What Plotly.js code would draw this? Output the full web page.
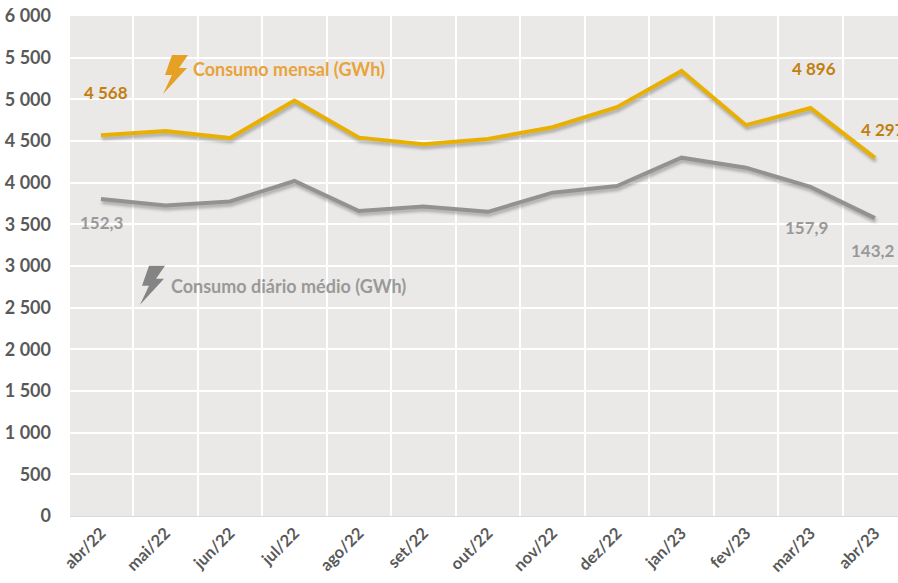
<!DOCTYPE html>
<html><head><meta charset="utf-8">
<script src="https://cdn.plot.ly/plotly-3.0.1.min.js"></script>
<style>
html,body{margin:0;padding:0;background:#fff;overflow:hidden}
#c{width:898px;height:583px}
.scatterlayer .js-line{filter:drop-shadow(1px 3px 1.5px rgba(70,70,70,.38))}
</style></head><body><div id="c"></div>
<script>
var months=["abr/22","mai/22","jun/22","jul/22","ago/22","set/22","out/22","nov/22","dez/22","jan/23","fev/23","mar/23","abr/23"];
var consumoMensal=[4568,4620,4535,4985,4540,4460,4525,4665,4905,5340,4690,4896,4297];
var consumoDiario=[3805,3725,3775,4020,3660,3715,3650,3880,3960,4300,4180,3950,3575];
var W=898,H=583,L=70,T=16,B=516.5;
function px(x){return (x-L)/(W-L)}
function py(y){return (B-y)/(B-T)}
var font="Lato, 'Open Sans', sans-serif";
function note(text,x,y,color,size){
  return {text:text,xref:'paper',yref:'paper',x:px(x),y:py(y),xanchor:'left',yanchor:'middle',showarrow:false,
          font:{family:font,size:size||17,color:color,weight:700},borderpad:0};
}
function bolt(ox,oy,color){
  var pts=[[9,0],[25,0],[16,13],[24,13],[0,39],[9,20],[2,20]];
  var d=pts.map(function(p,i){return (i?'L':'M')+px(ox+p[0])+','+py(oy+p[1]);}).join(' ')+' Z';
  return {type:'path',xref:'paper',yref:'paper',path:d,fillcolor:color,line:{width:0},layer:'above'};
}
Plotly.newPlot('c',[
 {x:months,y:consumoMensal,mode:'lines',name:'Consumo mensal (GWh)',line:{color:'#E9B004',width:4,shape:'linear'},cliponaxis:false},
 {x:months,y:consumoDiario,mode:'lines',name:'Consumo diário médio (GWh)',line:{color:'#929292',width:4,shape:'linear'},cliponaxis:false}
],{
 width:W,height:H,showlegend:false,separators:', ',
 paper_bgcolor:'#fff',plot_bgcolor:'#EAE9E8',
 font:{family:font,size:16,color:'#595959',weight:700},
 margin:{l:L,r:0,t:T,b:H-B,pad:0},
 xaxis:{type:'category',range:[-0.48,12.357],tickson:'boundaries',showgrid:true,gridcolor:'#fff',gridwidth:2,
   ticks:'',tickangle:-45,zeroline:false,showline:true,linecolor:'#D9D9D9',linewidth:1,
   tickfont:{family:font,size:16.5,color:'#595959',weight:700},fixedrange:true},
 yaxis:{range:[0,6000],tick0:0,dtick:500,tickformat:',d',showgrid:true,gridcolor:'#fff',gridwidth:2,
   ticks:'',zeroline:false,showline:false,ticklabelstandoff:18,
   tickfont:{family:font,size:18,color:'#595959',weight:700},fixedrange:true},
 annotations:[
  note('Consumo mensal (GWh)',192,69,'#E8A33A',18),
  note('Consumo diário médio (GWh)',170,286,'#999999',18),
  note('4 568',83,93,'#C27F0E'),
  note('4 896',791,69,'#C27F0E'),
  note('4 297',860,130,'#C27F0E'),
  note('152,3',79,223,'#999999'),
  note('157,9',784,228,'#999999'),
  note('143,2',850,251,'#999999')
 ],
 shapes:[bolt(163,55,'#E6A023'),bolt(140,266,'#848484')]
},{displayModeBar:false,staticPlot:true});
</script></body></html>
